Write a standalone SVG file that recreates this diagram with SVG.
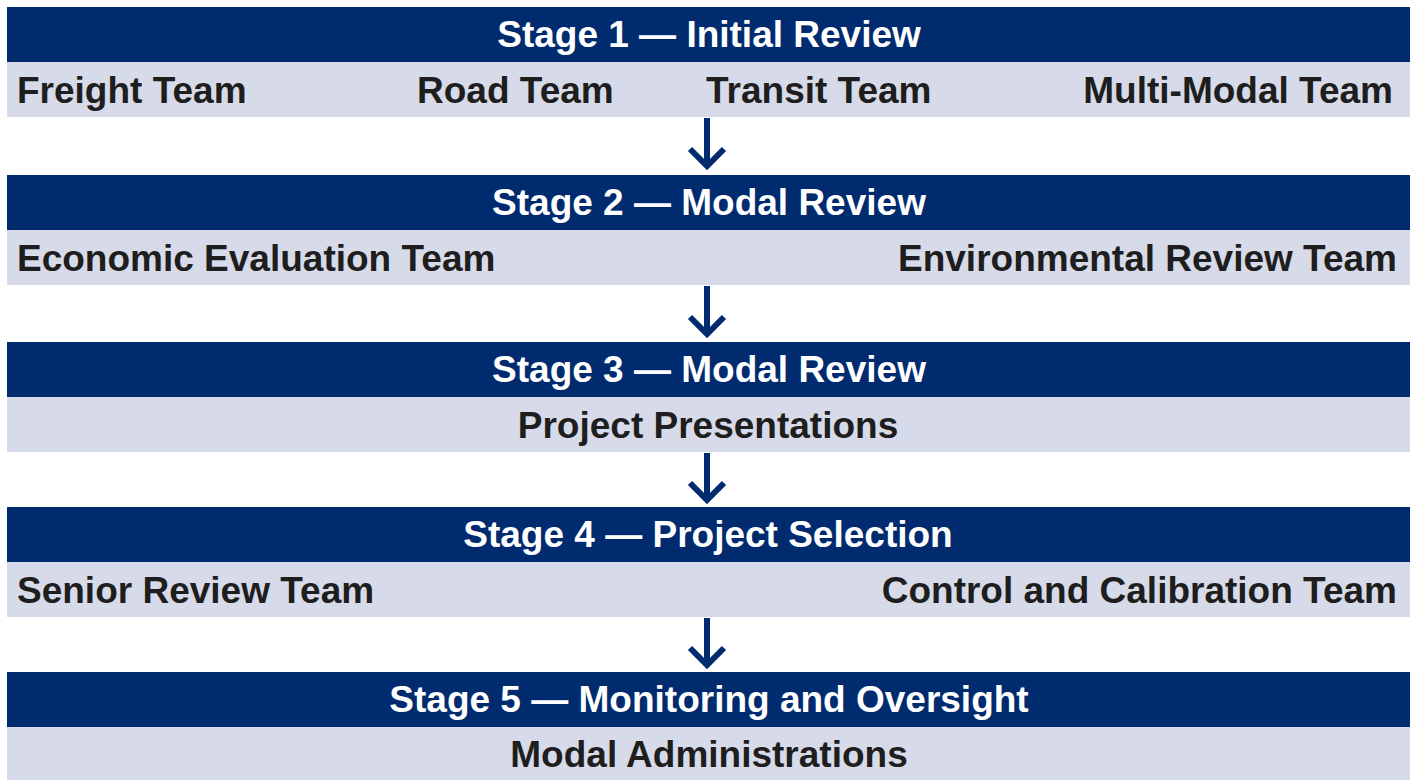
<svg xmlns="http://www.w3.org/2000/svg" width="1411" height="780" viewBox="0 0 1411 780">
<style>
.bar{fill:#002B6E}
.band{fill:#D7DAE8}
.t{font-family:"Liberation Sans",Arial,sans-serif;font-weight:bold;font-size:37px}
.h{fill:#FFFFFF;text-anchor:middle}
.r{fill:#1E1E1E}
.arr{fill:none;stroke:#002B6E;stroke-width:6}
</style>
<rect width="1411" height="780" fill="#FFFFFF"/>
<g id="stage1">
<rect class="bar" x="7" y="7" width="1403" height="55"/>
<rect class="band" x="7" y="62" width="1403" height="55"/>
<text class="t h" x="709" y="47">Stage 1 — Initial Review</text>
<text class="t r" x="17" y="103">Freight Team</text>
<text class="t r" x="417" y="103">Road Team</text>
<text class="t r" x="706" y="103">Transit Team</text>
<text class="t r" x="1393" y="103" text-anchor="end">Multi-Modal Team</text>
</g>
<g id="stage2">
<rect class="bar" x="7" y="175" width="1403" height="55"/>
<rect class="band" x="7" y="230" width="1403" height="55"/>
<text class="t h" x="709" y="215">Stage 2 — Modal Review</text>
<text class="t r" x="17" y="271">Economic Evaluation Team</text>
<text class="t r" x="1397" y="271" text-anchor="end">Environmental Review Team</text>
</g>
<g id="stage3">
<rect class="bar" x="7" y="342" width="1403" height="55"/>
<rect class="band" x="7" y="397" width="1403" height="55"/>
<text class="t h" x="709" y="382">Stage 3 — Modal Review</text>
<text class="t r" x="708" y="438" text-anchor="middle">Project Presentations</text>
</g>
<g id="stage4">
<rect class="bar" x="7" y="507" width="1403" height="55"/>
<rect class="band" x="7" y="562" width="1403" height="55"/>
<text class="t h" x="708" y="547">Stage 4 — Project Selection</text>
<text class="t r" x="17" y="603">Senior Review Team</text>
<text class="t r" x="1397" y="603" text-anchor="end">Control and Calibration Team</text>
</g>
<g id="stage5">
<rect class="bar" x="7" y="672" width="1403" height="55"/>
<rect class="band" x="7" y="727" width="1403" height="53"/>
<text class="t h" x="709" y="712">Stage 5 — Monitoring and Oversight</text>
<text class="t r" x="709" y="767" text-anchor="middle">Modal Administrations</text>
</g>
<g id="connectors">
<path class="arr" d="M707 118V166M690 149L707 166L724 149"/>
<path class="arr" d="M707 286V334M690 317L707 334L724 317"/>
<path class="arr" d="M707 453V500M690 483L707 500L724 483"/>
<path class="arr" d="M707 618V665M690 648L707 665L724 648"/>
</g>
</svg>
